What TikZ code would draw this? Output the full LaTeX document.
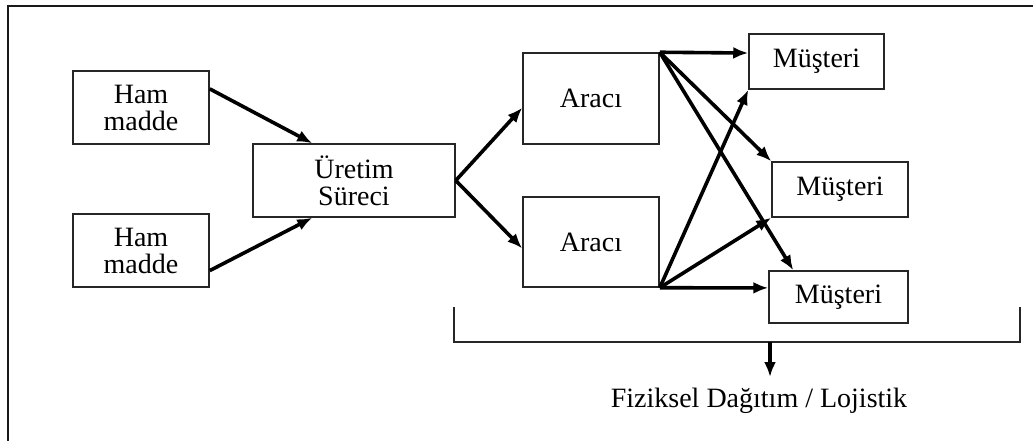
\documentclass[tikz,border=0pt]{standalone}
\usepackage{fontspec}
\setmainfont{Liberation Serif}
\usetikzlibrary{arrows.meta,calc}
\begin{document}
\begin{tikzpicture}[x=1pt,y=-1pt,
  box/.style={draw=black!85,line width=1.5pt,rectangle,inner sep=0pt,
    align=center,font=\fontsize{28}{27}\selectfont},
  flow/.style={line width=3.6pt,-{Latex[length=15pt,width=12pt]}},
  frame/.style={line width=2.2pt,black!90},
  brk/.style={line width=1.6pt,black!85}]
\useasboundingbox (0,0) rectangle (1033,441);
\fill[white] (0,0) rectangle (1033,441);
% frame
\draw[frame] (8,441) -- (8,6) -- (1033,6);

% nodes
\node[box,minimum width=136pt,minimum height=73pt] (ham1) at (141,107.5) {Ham\\madde};
\node[box,minimum width=136pt,minimum height=73pt] (ham2) at (141,250.5) {Ham\\madde};
\node[box,minimum width=202pt,minimum height=73pt] (ur) at (354,180.5) {Üretim\\Süreci};
\node[box,minimum width=136pt,minimum height=91pt] (ar1) at (591,98.5) {Aracı};
\node[box,minimum width=136pt,minimum height=90pt] (ar2) at (591,242) {Aracı};
\node[box,minimum width=135pt,minimum height=55pt] (m1) at (816.5,61.5) {Müşteri};
\node[box,minimum width=136pt,minimum height=55pt] (m2) at (840,189.5) {Müşteri};
\node[box,minimum width=139pt,minimum height=52pt] (m3) at (838.5,297) {Müşteri};

% raw material to production
\draw[flow] ($(ham1.north east)!0.25!(ham1.south east)$) -- ($(ur.north west)+(60,0)$);
\draw[flow] ($(ham2.north east)!0.77!(ham2.south east)$) -- ($(ur.south west)+(60,0)$);
% production to intermediaries
\draw[flow] (ur.east) -- ($(ar1.north west)!0.6!(ar1.south west)$);
\draw[flow] (ur.east) -- ($(ar2.north west)!0.57!(ar2.south west)$);
% intermediaries to customers
\draw[flow] (ar1.north east) -- ($(m1.north west)!0.35!(m1.south west)$);
\draw[flow] (ar1.north east) -- (m2.north west);
\draw[flow] (ar1.north east) -- ($(m3.north west)+(25,0)$);
\draw[flow] (ar2.south east) -- (m1.south west);
\draw[flow] (ar2.south east) -- (m2.south west);
\draw[flow] (ar2.south east) -- ($(m3.north west)!0.33!(m3.south west)$);

% bracket and label
\coordinate (b1) at (454,307);
\coordinate (b2) at (454,342);
\coordinate (b3) at (1020,342);
\coordinate (b4) at (1020,307);
\coordinate (bm) at (770,342);
\draw[brk] (b1) -- (b2) -- (b3) -- (b4);
\node[font=\fontsize{28}{27}\selectfont,anchor=base] (lab) at (759,407) {Fiziksel Dağıtım / Lojistik};
\draw[flow] (bm) -- ($(bm)+(0,35)$);
\end{tikzpicture}
\end{document}
